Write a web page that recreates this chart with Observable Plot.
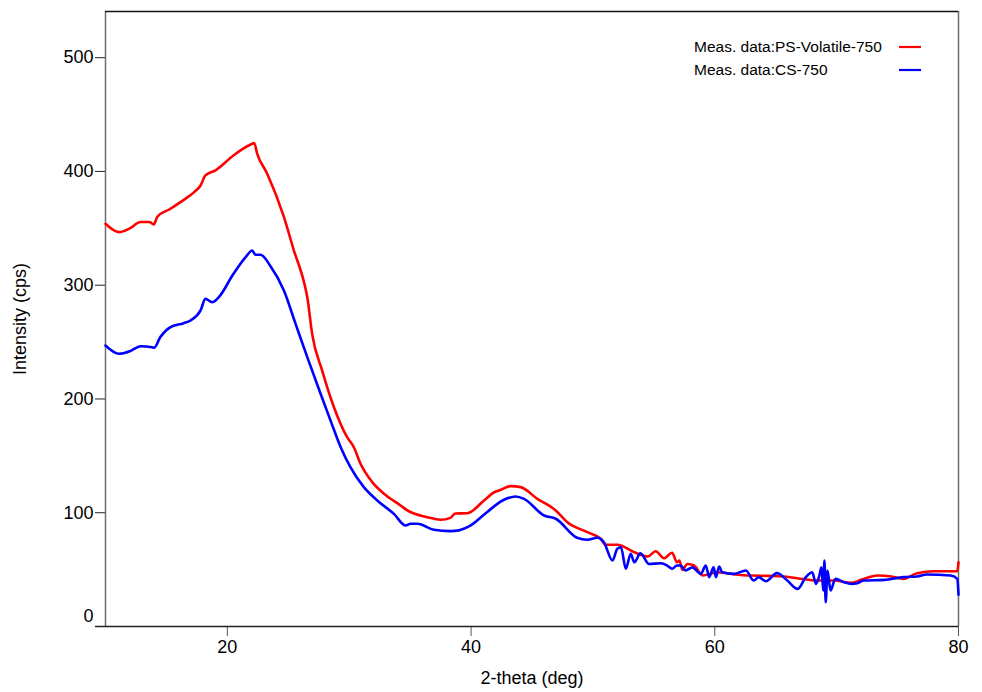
<!DOCTYPE html>
<html>
<head>
<meta charset="utf-8">
<script src="https://cdn.jsdelivr.net/npm/d3@7"></script>
<script src="https://cdn.jsdelivr.net/npm/@observablehq/plot@0.6"></script>
<style>
  html, body { margin: 0; padding: 0; background: #fff; }
  #chart { width: 982px; height: 692px; }
  svg { font-family: "Liberation Sans", Arial, sans-serif; }
</style>
</head>
<body>
<div id="chart"></div>
<script>
const seriesNames = ["Meas. data:PS-Volatile-750", "Meas. data:CS-750"];
const seriesColors = ["#ff0000", "#0000ff"];

const redX = [10, 11.1, 12.0, 12.87, 13.6, 13.97, 14.24, 15.3, 16.42, 17.3, 17.8, 18.2, 19.03, 20.5, 21.3, 22.04, 22.2, 22.45, 23.27, 24.64, 25.46, 26.28, 26.56, 26.96, 27.78, 28.74, 29.83, 30.38, 30.93, 31.89, 32.85, 34.22, 34.77, 36.4, 37.5, 38.3, 38.7, 39.7, 41.06, 41.9, 42.4, 43.25, 44.07, 45.44, 46.95, 47.9, 49.54, 50.64, 51.05, 52.0, 53.4, 54.5, 55.15, 55.84, 56.5, 56.9, 57.1, 57.34, 57.75, 58.3, 59.0, 60.2, 61.5, 62.95, 64.5, 65.7, 67.0, 68.4, 69.8, 71.2, 72.0, 73.35, 74.5, 75.5, 76.6, 78.0, 79.9, 80];
const redY = [354, 346.7, 350, 355.5, 355.5, 353.5, 360, 367, 375, 382, 387.7, 396.5, 401, 414, 420, 424.3, 425, 415.5, 398, 360, 330.5, 303, 289.5, 257, 225, 193, 166.4, 157.6, 143, 126.9, 116.7, 106.4, 102, 96.1, 93.8, 95.5, 99.3, 99.6, 110.8, 118, 120, 123.4, 122.5, 112.2, 102, 91.7, 82.9, 77.1, 71.8, 71.8, 65.3, 61.5, 66.2, 60, 64.8, 56.5, 58, 49.8, 55, 53.6, 44.8, 47.7, 46, 44.8, 44.5, 44, 42, 40.4, 40.4, 38.4, 41, 44.8, 44, 41.9, 46.9, 48.6, 48.6, 56.5];

const blueX = [10, 11.1, 12.0, 12.87, 13.83, 14.0, 14.5, 15.3, 16.42, 16.97, 17.8, 18.2, 18.76, 19.3, 20.5, 21.5, 22.04, 22.3, 22.73, 23.5, 24.64, 25.6, 26.55, 27.65, 28.47, 29.3, 30.1, 31.2, 32.3, 33.67, 34.63, 35.04, 35.6, 36.95, 38.3, 39.0, 39.97, 41.3, 42.7, 43.66, 44.35, 45.99, 46.95, 48.7, 49.54, 50.36, 50.9, 51.6, 52.0, 52.3, 52.7, 53.1, 53.4, 53.9, 54.6, 55.56, 56.1, 56.5, 56.9, 57.2, 57.6, 58.16, 58.85, 59.26, 59.54, 59.9, 60.1, 60.36, 60.6, 61.6, 62.55, 63.2, 63.6, 64.2, 65.1, 65.95, 66.8, 67.47, 68.0, 68.3, 68.55, 68.76, 68.9, 69.0, 69.1, 69.25, 69.5, 69.9, 70.6, 71.2, 71.7, 72.2, 73.9, 75.5, 76.6, 77.4, 79.35, 79.9, 80];
const blueY = [247, 239.7, 242, 246.4, 245.5, 245, 254.4, 263, 266.6, 269, 277.8, 288, 285, 289.5, 310, 324.7, 330.5, 326.8, 326.8, 317.4, 295.4, 266, 237, 204.6, 181, 157.6, 140, 122.5, 110.8, 99, 88.8, 90.3, 90.3, 85, 83.8, 84.5, 88.8, 100.5, 111.4, 114.3, 112.2, 97.6, 94.7, 78, 76.2, 78, 74.1, 58, 68.3, 69.7, 50.7, 63.9, 56.5, 64.4, 55, 55.6, 53.6, 50.7, 53.6, 53.6, 49.2, 52, 46.3, 53.6, 43.4, 52, 43.4, 52.7, 47.7, 46.3, 49.2, 40.4, 43.4, 39.8, 46.9, 40.4, 33.1, 43.4, 47.7, 37.5, 43.4, 52, 31.6, 58, 21.4, 49.2, 31.6, 41.9, 39, 37.5, 38, 40.4, 41, 43.4, 44, 45.7, 44.8, 41.9, 28];

const xDomain = [10, 80];
const yDomain = [0, 540.6];
const xTicks = [20, 40, 60, 80];
const yTicks = [100, 200, 300, 400, 500];
const xLabel = "2-theta (deg)";
const yLabel = "Intensity (cps)";

const red = redX.map((x, i) => ({x, y: redY[i], s: seriesNames[0]}));
const blue = blueX.map((x, i) => ({x, y: blueY[i], s: seriesNames[1]}));

const chart = Plot.plot({
  width: 982,
  height: 692,
  marginLeft: 105,
  marginRight: 24,
  marginTop: 11,
  marginBottom: 66,
  style: {fontFamily: "'Liberation Sans', Arial, sans-serif", background: "#fff", color: "#000"},
  x: {domain: xDomain},
  y: {domain: yDomain},
  color: {domain: seriesNames, range: seriesColors},
  marks: [
    Plot.ruleX([xDomain[0]], {stroke: "#6e6e6e", strokeWidth: 1.5}),
    Plot.ruleX([xDomain[1]], {stroke: "#6e6e6e", strokeWidth: 1.5}),
    Plot.ruleY([yDomain[1]], {stroke: "#111", strokeWidth: 1.5}),
    Plot.axisY({ticks: yTicks, tickSize: 10, tickPadding: 2, label: null, fontSize: 18, stroke: "#222"}),
    Plot.axisX({ticks: xTicks, tickSize: 10, tickPadding: 4, label: null, fontSize: 18, stroke: "#555"}),
    Plot.text([0], {y: d => d, frameAnchor: "left", text: d => String(d), dx: -12, dy: -10, textAnchor: "end", fontSize: 18}),
    Plot.ruleY([0], {stroke: "#222", strokeWidth: 1.5, insetLeft: -10}),
    Plot.line(red, {x: "x", y: "y", stroke: "s", strokeWidth: 2.6, strokeLinejoin: "round", curve: "monotone-x"}),
    Plot.line(blue, {x: "x", y: "y", stroke: "s", strokeWidth: 2.6, strokeLinejoin: "round", curve: "monotone-x"}),
    Plot.text([xLabel], {frameAnchor: "bottom", dy: 57, fontSize: 18}),
    Plot.text([yLabel], {frameAnchor: "left", textAnchor: "middle", rotate: -90, dx: -85, fontSize: 18})
  ]
});

// Legend drawn inside the SVG, top-right
const svg = d3.select(chart);
const leg = svg.append("g").attr("font-family", "'Liberation Sans', Arial, sans-serif").attr("font-size", 15.5);
seriesNames.forEach((name, i) => {
  const cy = 47 + i * 23;
  leg.append("text").attr("x", 694).attr("y", cy).attr("dy", "0.35em").attr("text-anchor", "start").attr("fill", "#000").text(name);
  leg.append("line").attr("x1", 899).attr("x2", 921).attr("y1", cy).attr("y2", cy).attr("stroke", seriesColors[i]).attr("stroke-width", 2.2);
});

document.getElementById("chart").appendChild(chart);
</script>
</body>
</html>
